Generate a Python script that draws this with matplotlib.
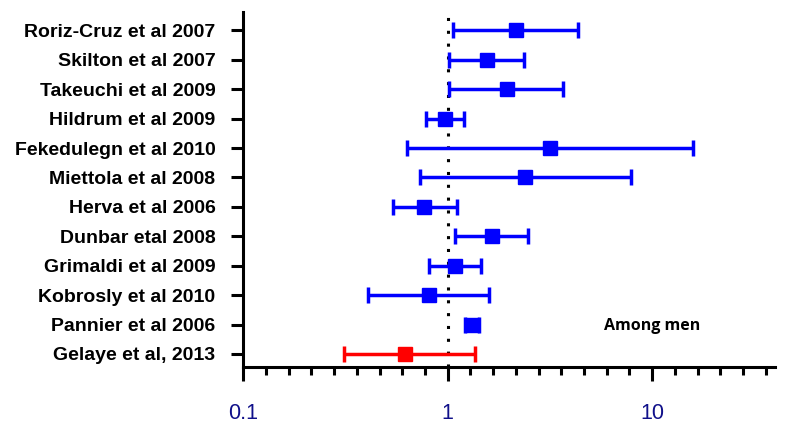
import numpy as np
import matplotlib.pyplot as plt
from matplotlib.ticker import FixedLocator, NullFormatter

studies = [
    "Roriz-Cruz et al 2007", "Skilton et al 2007", "Takeuchi et al 2009",
    "Hildrum et al 2009", "Fekedulegn et al 2010", "Miettola et al 2008",
    "Herva et al 2006", "Dunbar etal 2008", "Grimaldi et al 2009",
    "Kobrosly et al 2010", "Pannier et al 2006", "Gelaye et al, 2013",
]
odds_ratio = [2.16, 1.55, 1.95, 0.97, 3.16, 2.40, 0.77, 1.64, 1.09, 0.81, 1.31, 0.62]
ci_low = [1.06, 1.01, 1.01, 0.78, 0.63, 0.73, 0.54, 1.09, 0.81, 0.41, 1.21, 0.31]
ci_high = [4.33, 2.35, 3.66, 1.20, 15.8, 7.87, 1.11, 2.46, 1.46, 1.60, 1.43, 1.36]
colors = ["blue"] * 11 + ["red"]
major_ticks = [0.1, 1, 10]
major_labels = ["0.1", "1", "10"]

fig = plt.figure(figsize=(8, 4.33), dpi=100)
ax = fig.add_axes([0.304, 0.152, 0.665, 0.82])

n = len(studies)
ypos = np.arange(n, 0, -1)

for y, or_, lo, hi, c in zip(ypos, odds_ratio, ci_low, ci_high, colors):
    ax.errorbar(or_, y, xerr=[[or_ - lo], [hi - or_]], fmt="s", color=c,
                ecolor=c, elinewidth=2.5, capsize=6, capthick=2.5,
                markersize=10, zorder=3)

ax.axvline(1, color="black", linestyle=(0, (1, 3.2)), linewidth=2.2, zorder=1)

ax.set_xscale("log")
ax.set_xlim(0.1, 40)
ax.set_ylim(0.55, n + 0.62)

ax.xaxis.set_major_locator(FixedLocator(major_ticks))
ax.set_xticklabels(major_labels)
minor = [10 ** (-1 + k / 9) for k in range(24)]
ax.xaxis.set_minor_locator(FixedLocator(minor))
ax.xaxis.set_minor_formatter(NullFormatter())

ax.set_yticks(ypos)
ax.set_yticklabels(studies, fontfamily="Liberation Sans", fontweight="bold",
                   fontsize=14)

ax.tick_params(axis="x", which="major", direction="out", length=10, width=2.2,
               labelsize=15.5, labelcolor="#10108a", pad=16)
ax.tick_params(axis="x", which="minor", direction="out", length=6, width=2.2)
ax.tick_params(axis="y", direction="out", length=9, width=2.2, pad=11)
for lbl in ax.get_xticklabels():
    lbl.set_fontfamily("Liberation Sans")

for side in ["top", "right"]:
    ax.spines[side].set_visible(False)
for side in ["left", "bottom"]:
    ax.spines[side].set_linewidth(2.2)

ax.text(10.0, 1.95, "Among men", fontsize=11.5, fontweight="bold",
        fontfamily="Open Sans", ha="center", va="center")

fig.savefig("out.png", dpi=100)
